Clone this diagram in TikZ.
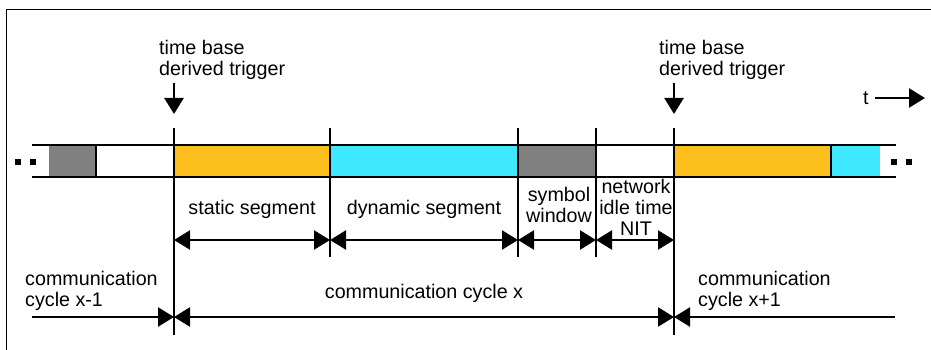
\documentclass[tikz,border=0pt]{standalone}
\usepackage{fontspec}
\setmainfont{Liberation Sans}
\usetikzlibrary{arrows.meta}
\definecolor{statorange}{RGB}{253,191,30}
\definecolor{dyncyan}{RGB}{62,232,255}
\definecolor{symgrey}{RGB}{128,128,128}
\tikzset{lbl/.style={font=\fontsize{19.7}{21}\selectfont, inner sep=0pt},
  barline/.style={line width=2.8pt},
  tick/.style={line width=2.5pt},
  tip/.tip={Triangle[length=16pt,width=19pt]},
  dimarr/.style={line width=2.4pt, tip-tip},
  endarr/.style={line width=2.4pt, -tip},
  startarr/.style={line width=2.4pt, tip-}}

\begin{document}
\begin{tikzpicture}[x=1pt,y=-1pt]
  \useasboundingbox (0,0) rectangle (931,350);
  \draw[line width=0.8pt] (6,350) -- (6,9) -- (931,9); % frame
  % the bar
  \fill[symgrey] (49,145) rectangle (96,177);
  \fill[statorange] (174,145) rectangle (330,177);
  \fill[dyncyan] (330,145) rectangle (518,177);
  \fill[symgrey] (518,145) rectangle (596,177);
  \fill[statorange] (674,145) rectangle (831,177);
  \fill[dyncyan] (831,145) rectangle (880,177);
  \draw[barline] (32,145) -- (896,145);
  \draw[barline] (32,177) -- (896,177);
  \foreach \x in {96,831} \draw[tick] (\x,145) -- (\x,177);
  \foreach \x in {330,518,596} \draw[tick] (\x,128) -- (\x,257);
  \foreach \x in {174,674} \draw[tick] (\x,128) -- (\x,335);
  \foreach \x in {15,30,891,906} \fill (\x,159) rectangle +(6,6); % dots
  % triggers
  \node[lbl, align=left, anchor=west] (trigA) at (159,60) {time base\\derived trigger};
  \node[lbl, align=left, anchor=west] (trigB) at (659,60) {time base\\derived trigger};
  \coordinate (trigAtop) at (174,83);
  \coordinate (trigAtip) at (174,114);
  \coordinate (trigBtop) at (674,83);
  \coordinate (trigBtip) at (674,114);
  \draw[endarr] (trigAtop) -- (trigAtip);
  \draw[endarr] (trigBtop) -- (trigBtip);
  % time axis
  \node[lbl, anchor=base west] (tlbl) at (863,105) {t};
  \coordinate (tend) at (925,98);
  \draw[endarr] ([xshift=6pt]tlbl.east |- tend) -- (tend);
  % segments
  \coordinate (s0) at (174,240);
  \coordinate (s1) at (330,240);
  \coordinate (s2) at (518,240);
  \coordinate (s3) at (596,240);
  \coordinate (s4) at (674,240);
  \draw[dimarr] (s0) -- (s1);
  \draw[dimarr] (s1) -- (s2);
  \draw[dimarr] (s2) -- (s3);
  \draw[dimarr] (s3) -- (s4);
  \node[lbl, anchor=base] (statlbl) at (252,214) {static segment};
  \node[lbl, anchor=base] (dynlbl) at (424,214) {dynamic segment};
  \node[lbl, align=center] (symlbl) at (559,205) {symbol\\window};
  \node[lbl, align=center] (nitlbl) at (636,207) {network\\idle time\\NIT};
  % cycles
  \coordinate (c0) at (32,317);
  \coordinate (c1) at (174,317);
  \coordinate (c2) at (674,317);
  \coordinate (c3) at (895,317);
  \draw[endarr] (c0) -- (c1);
  \draw[dimarr] (c1) -- (c2);
  \draw[startarr] (c2) -- (c3);
  \node[lbl, align=left, anchor=west] (cycprev) at (25,291) {communication\\cycle x-1};
  \node[lbl, anchor=base] (cyccur) at (424,298) {communication cycle x};
  \node[lbl, align=left, anchor=west] (cycnext) at (698,291) {communication\\cycle x+1};
\end{tikzpicture}
\end{document}
